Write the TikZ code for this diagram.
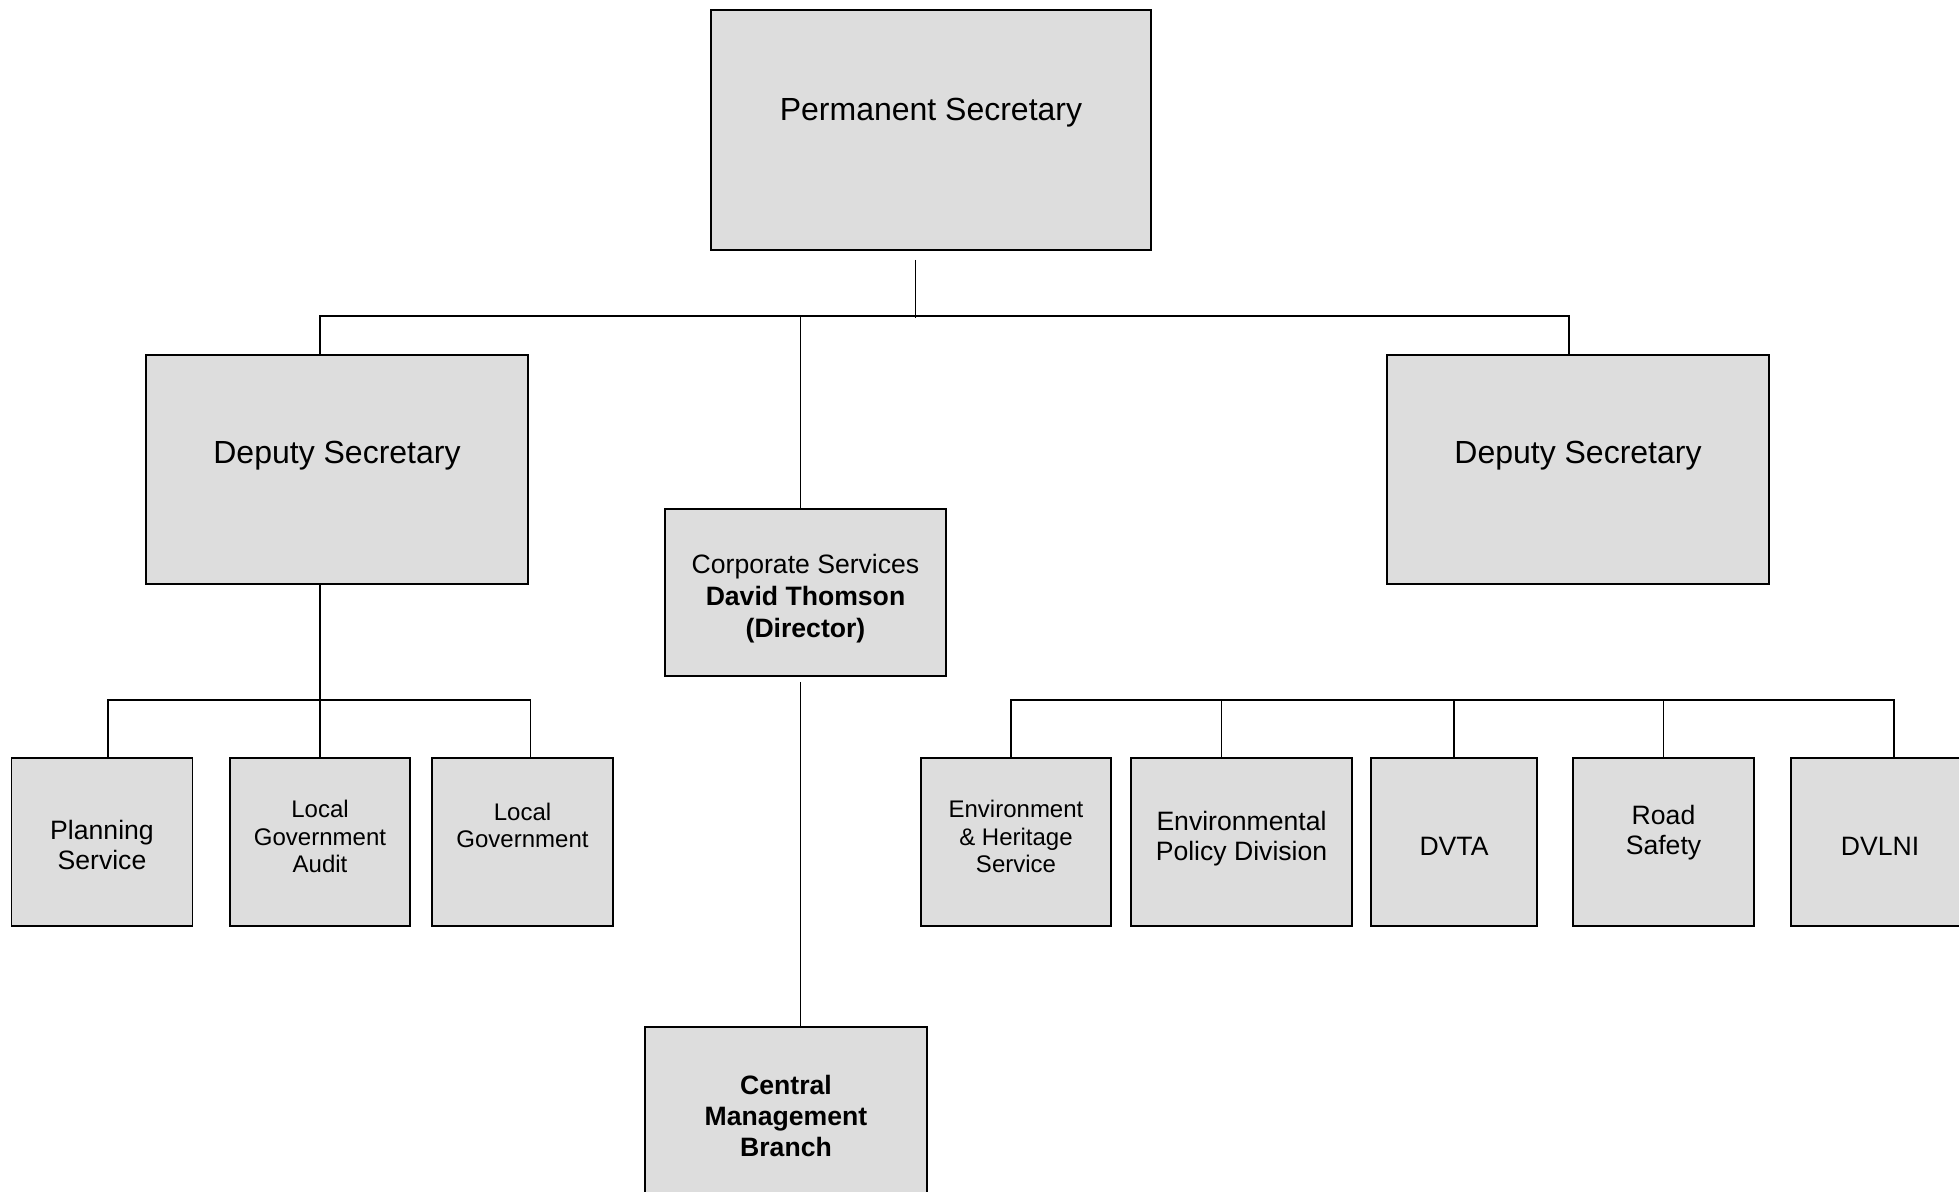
\documentclass[tikz,border=0pt]{standalone}
\usepackage{fontspec}
\setmainfont{Liberation Sans}
\usepackage{tikz}
\definecolor{bx}{HTML}{DDDDDD}

\begin{document}
\begin{tikzpicture}[x=0.5pt,y=-0.5pt]
            \tikzstyle{box}=[draw,fill=bx,line width=0.8pt,inner sep=0pt,align=center]
            \tikzstyle{big}=[font=\fontsize{16}{19}\selectfont]
            \tikzstyle{mid}=[font=\fontsize{13.3}{15}\selectfont]
            \tikzstyle{sml}=[font=\fontsize{12}{13.7}\selectfont]
            \tikzstyle{conn}=[line width=0.8pt]
            \tikzstyle{thin}=[line width=0.5pt]
            \useasboundingbox (0,0) rectangle (1959,1191);
            \node[box,big,minimum width=220pt,minimum height=120pt,text depth=21pt] (perm) at (931,130) {Permanent Secretary};
            \node[box,big,minimum width=191pt,minimum height=114.5pt,text depth=17.5pt] (depL) at (337,469.5) {Deputy Secretary};
            \node[box,big,minimum width=191pt,minimum height=114.5pt,text depth=17.5pt] (depR) at (1578,469.5) {Deputy Secretary};
            \node[box,font=\fontsize{13.3}{16}\selectfont,minimum width=140.5pt,minimum height=83.5pt,text height=45.3pt,text depth=0pt] (corp) at (805.5,592.5) {Corporate Services\\\textbf{David Thomson}\\\textbf{(Director)}};
            \node[box,font=\fontsize{13.3}{15.6}\selectfont,minimum width=141pt,minimum height=89pt] (cmb) at (786,1116) {\textbf{Central}\\\textbf{Management}\\\textbf{Branch}};
            \node[box,mid,minimum width=90.5pt,minimum height=84pt,text height=27.5pt,text depth=0pt] (plan) at (102,842) {Planning\\Service};
            \node[box,sml,minimum width=90pt,minimum height=84pt,text depth=5.5pt] (lga) at (320,842) {Local\\Government\\Audit};
            \node[box,sml,minimum width=90.5pt,minimum height=84pt,text depth=16.5pt] (lg) at (522.5,842) {Local\\Government};
            \node[box,sml,minimum width=95pt,minimum height=84pt,text depth=5.5pt] (env) at (1016,842) {Environment\\\& Heritage\\Service};
            \node[box,mid,minimum width=110.5pt,minimum height=84pt,text depth=6pt] (envpol) at (1241.5,842) {Environmental\\Policy Division};
            \node[box,mid,minimum width=83pt,minimum height=84pt,text height=13.5pt,text depth=0pt] (dvta) at (1454,842) {DVTA};
            \node[box,mid,minimum width=90.5pt,minimum height=84pt,text depth=12pt] (road) at (1663.5,842) {Road\\Safety};
            \node[box,mid,minimum width=89pt,minimum height=84pt,text height=13.5pt,text depth=0pt] (dvlni) at (1880,842) {DVLNI};
            \draw[thin] ([xshift=-8pt,yshift=-4.5pt]perm.south) -- ++(0,58);
            \draw[conn] ([xshift=-8.5pt]depL.north) -- ++(0,-38) -| ([xshift=-4.5pt]depR.north);
            \draw[thin] ([xshift=-2.75pt]corp.north) -- ++(0,-192);
            \draw[thin] ([xshift=-2.75pt,yshift=-2.5pt]corp.south) -- ([xshift=-2.75pt]corp.south |- cmb.north);
            \draw[conn] (lga.north) -- (lga.north |- depL.south);
            \draw[conn] ([xshift=3pt]plan.north) -- ++(0,-57) -| ([xshift=4pt]lg.north);
            \draw[conn] ([xshift=-2.5pt]env.north) -- ++(0,-57) -| ([xshift=7pt]dvlni.north);
            \draw[conn] ([xshift=-10pt]envpol.north) -- ++(0,-57);
            \draw[conn] (dvta.north) -- ++(0,-57);
            \draw[conn] (road.north) -- ++(0,-57);
          \end{tikzpicture}
\end{document}
